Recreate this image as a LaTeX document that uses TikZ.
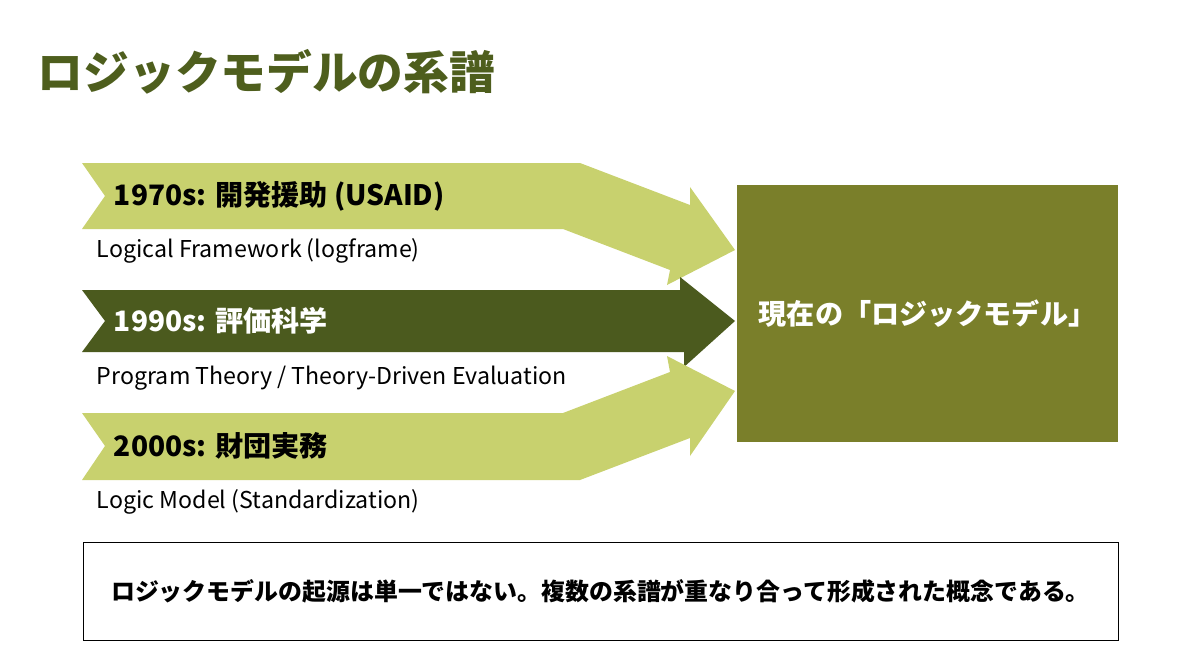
\documentclass[tikz,border=0pt]{standalone}
\usepackage{fontspec}
\setmainfont{Noto Sans CJK JP}
\usetikzlibrary{positioning}
\definecolor{lightolive}{HTML}{C8D16E}
\definecolor{darkolive}{HTML}{4B5A1E}
\definecolor{boxolive}{HTML}{7A7F2A}
\definecolor{titleolive}{HTML}{4E5E1D}
\begin{document}
\begin{tikzpicture}[
    x=0.025cm, y=-0.025cm,
    font=\bfseries
]
\tikzset{
    arrowl/.style = {fill=lightolive, draw=none},
    arrowd/.style = {fill=darkolive, draw=none},
    era/.style = {anchor=west, font=\fontsize{20}{22}\selectfont\bfseries},
    sub/.style = {anchor=west, font=\fontsize{16.5}{18}\selectfont}
}
\useasboundingbox (0,0) rectangle (1200,670);
\node[anchor=west, text=titleolive, font=\fontsize{32.5}{36}\selectfont\bfseries] (title) at (33,72) {ロジックモデルの系譜};
% arrows
\fill[arrowl] (82,163) -- (580,163) -- (690,205) -- (690,187) -- (735,250) -- (667,285) -- (670,270) -- (563,229) -- (82,229) -- (105,196) -- cycle;
\fill[arrowd] (82,290) -- (680,290) -- (680,277) -- (735,321) -- (684,367) -- (684,352) -- (82,352) -- (105,321) -- cycle;
\fill[arrowl] (82,480) -- (580,480) -- (690,438) -- (690,456) -- (735,391) -- (667,356) -- (670,372) -- (563,413) -- (82,413) -- (105,446) -- cycle;
\node[era] (e1) at (109,196) {1970s: 開発援助 (USAID)};
\node[sub] (s1) at (92,251) {Logical Framework (logframe)};
\node[era, text=white] (e2) at (109,321) {1990s: 評価科学};
\node[sub] (s2) at (92,378) {Program Theory / Theory-Driven Evaluation};
\node[era] (e3) at (109,446) {2000s: 財団実務};
\node[sub] (s3) at (92,502) {Logic Model (Standardization)};
% result box
\node[fill=boxolive, minimum width=381*0.025cm, minimum height=257*0.025cm, text=white,
      font=\fontsize{20}{22}\selectfont\bfseries] (model) at (927.5,313.5) {現在の「ロジックモデル」};
% summary
\node[draw=black, thin, minimum width=1035*0.025cm, minimum height=98*0.025cm,
      font=\fontsize{17}{19}\selectfont\bfseries] (note) at (600.5,591)
      {ロジックモデルの起源は単一ではない。複数の系譜が重なり合って形成された概念である。};
\end{tikzpicture}
\end{document}
